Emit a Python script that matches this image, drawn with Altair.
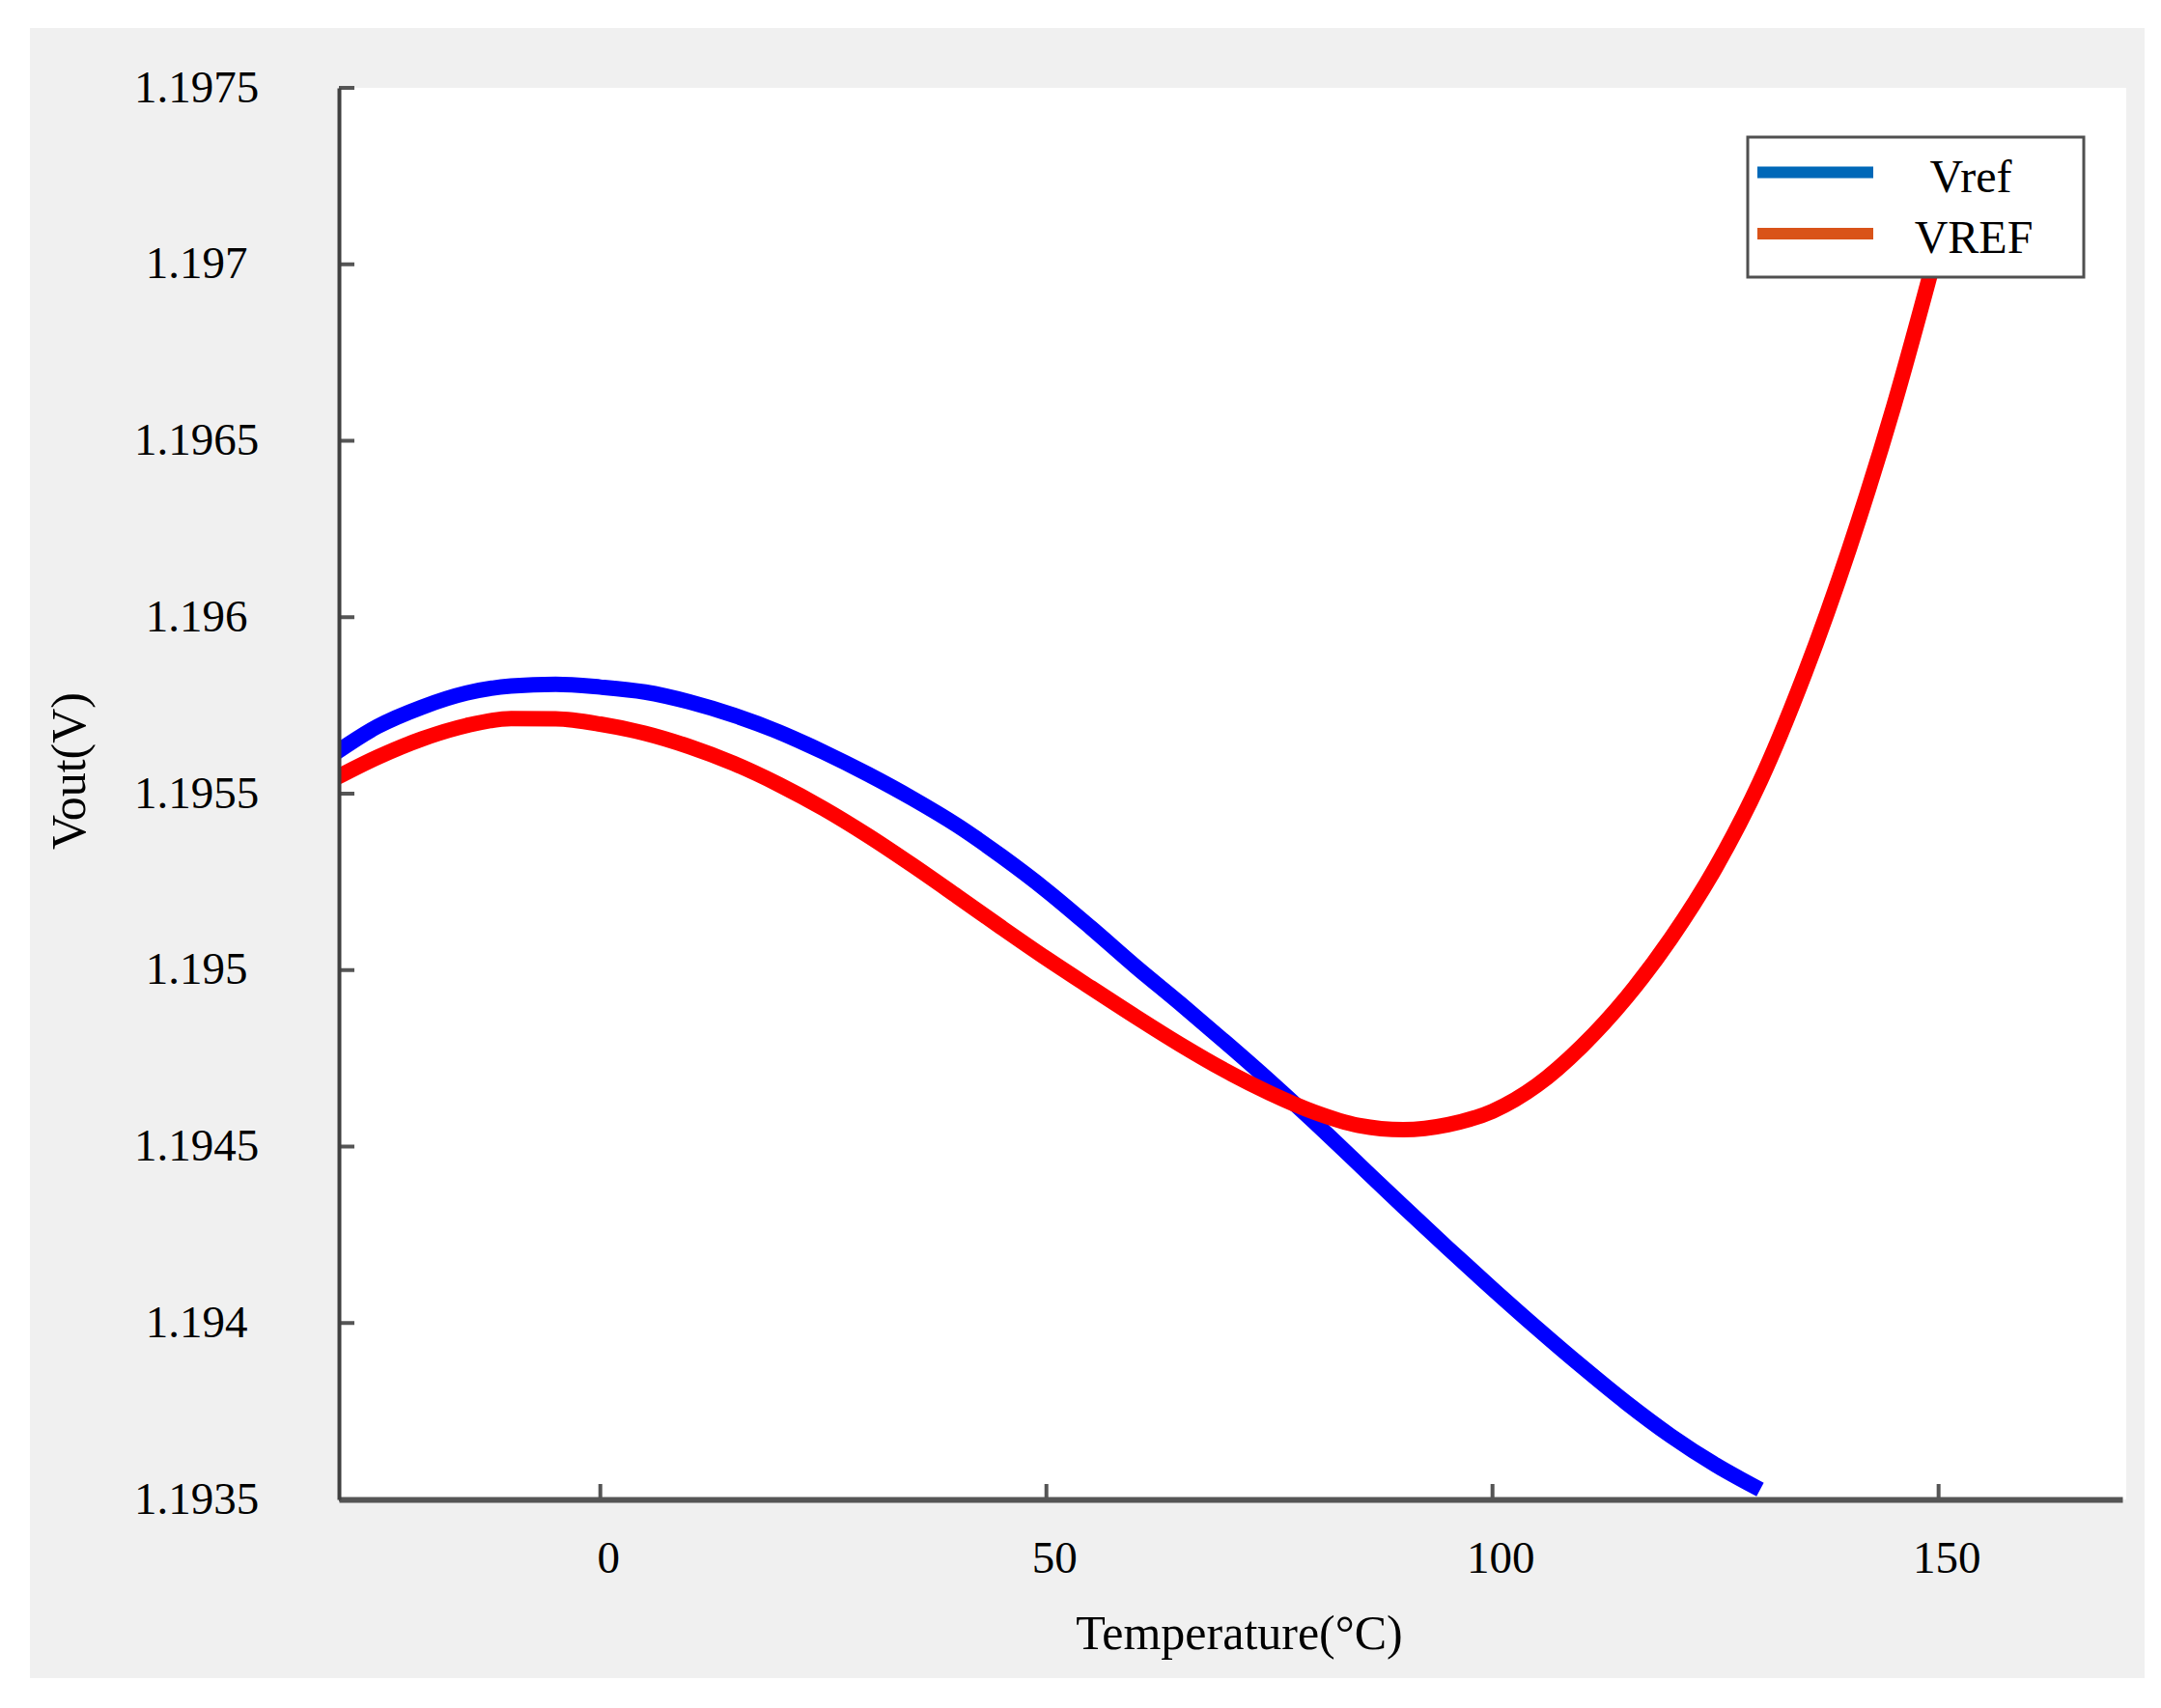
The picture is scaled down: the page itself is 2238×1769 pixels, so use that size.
import altair as alt
import pandas as pd

# ---- data ----
temps_vref = [-30, -25, -20, -15, -10, -5, 0, 5, 10, 15, 20, 25, 30, 35, 40, 45,
              50, 55, 60, 65, 70, 75, 80, 85, 90, 95, 100, 105, 110, 115, 120, 125, 130]
vref = [1.19561, 1.19569, 1.195745, 1.195785, 1.195805, 1.19581, 1.195802, 1.195788,
        1.19576, 1.195722, 1.195675, 1.195618, 1.195555, 1.195486, 1.19541, 1.195322,
        1.195226, 1.19512, 1.19501, 1.194905, 1.194797, 1.194686, 1.19457, 1.19445,
        1.19433, 1.194212, 1.194097, 1.193985, 1.193877, 1.193774, 1.19368, 1.193598, 1.193528]

temps_VREF = [-30, -25, -20, -15, -10, -5, 0, 5, 10, 15, 20, 25, 30, 35, 40, 45,
              50, 55, 60, 65, 70, 75, 80, 85, 90, 95, 100, 105, 110, 115, 120, 125,
              130, 135, 140, 145, 150]
VREF = [1.19554, 1.195603, 1.195655, 1.195693, 1.195713, 1.195712, 1.195697, 1.195671,
        1.195633, 1.195585, 1.195526, 1.195458, 1.195381, 1.195297, 1.195209, 1.19512,
        1.195033, 1.19495, 1.194868, 1.194789, 1.194716, 1.194652, 1.194598, 1.19456,
        1.194548, 1.194562, 1.1946, 1.194674, 1.194784, 1.194922, 1.19509, 1.19529,
        1.195535, 1.19584, 1.196195, 1.1966, 1.19706]

series_names = ["Vref", "VREF"]
line_colors = ["#0000ff", "#ff0000"]
legend_colors = ["#0068b8", "#d95319"]

x_ticks = [0, 50, 100, 150]
y_ticks = [1.1935, 1.194, 1.1945, 1.195, 1.1955, 1.196, 1.1965, 1.197, 1.1975]

x_domain = [-29.3, 170.6]
y_domain = [1.1935, 1.1975]

W, H = 1847, 1462
FONT = "Liberation Serif"

df = pd.concat([
    pd.DataFrame({"series": "Vref", "T": temps_vref, "V": vref, "order": range(len(vref))}),
    pd.DataFrame({"series": "VREF", "T": temps_VREF, "V": VREF, "order": range(len(VREF))}),
])

xscale = alt.Scale(domain=x_domain, nice=False, zero=False)
yscale = alt.Scale(domain=y_domain, nice=False, zero=False)

x_axis = alt.Axis(values=x_ticks, format="d", ticks=False, tickSize=0, grid=False,
                  domainColor="#555555", domainWidth=6, labelFont=FONT, labelFontSize=47,
                  labelColor="black", labelPadding=61, labelBaseline="middle", labelOffset=8,
                  labelOverlap=False, title="Temperature(°C)", titleFont=FONT,
                  titleFontSize=50, titleFontWeight="normal", titleColor="black",
                  titleX=932, titleY=154, titleAlign="center", titleBaseline="alphabetic",
                  zindex=1)
y_axis = alt.Axis(values=y_ticks, format=".4~f", ticks=False, tickSize=0, grid=False,
                  domainColor="#404040", domainWidth=4, labelFont=FONT, labelFontSize=47,
                  labelColor="black", labelPadding=148, labelAlign="center",
                  labelBaseline="middle", labelOverlap=False, title="Vout(V)",
                  titleFont=FONT, titleFontSize=50, titleFontWeight="normal",
                  titleColor="black", titleX=-279, titleY=707, titleAngle=270,
                  titleAlign="center", titleBaseline="middle", zindex=1)

one = pd.DataFrame({"k": [0]})

gray_bg = alt.Chart(one).mark_rect(color="#f0f0f0").encode(
    x=alt.value(-320), x2=alt.value(1870), y=alt.value(-62), y2=alt.value(1647))
white_bg = alt.Chart(one).mark_rect(color="white").encode(
    x=alt.value(0), x2=alt.value(W + 4), y=alt.value(0), y2=alt.value(H))

lines = alt.Chart(df).mark_line(strokeWidth=16, clip=True, interpolate="monotone").encode(
    x=alt.X("T:Q", scale=xscale, axis=x_axis),
    y=alt.Y("V:Q", scale=yscale, axis=y_axis),
    color=alt.Color("series:N", scale=alt.Scale(domain=series_names, range=line_colors),
                    legend=None),
    order="order:Q",
)

ytick_df = pd.DataFrame({"V": y_ticks})
xtick_df = pd.DataFrame({"T": x_ticks})
yticks = alt.Chart(ytick_df).mark_rule(color="#555555", strokeWidth=4).encode(
    y=alt.Y("V:Q", scale=yscale), x=alt.value(0), x2=alt.value(16))
xticks = alt.Chart(xtick_df).mark_rule(color="#555555", strokeWidth=4).encode(
    x=alt.X("T:Q", scale=xscale), y=alt.value(H - 16), y2=alt.value(H))

legend_box = alt.Chart(one).mark_rect(fill="white", stroke="#505050", strokeWidth=3).encode(
    x=alt.value(1459), x2=alt.value(1807), y=alt.value(51), y2=alt.value(196))

legend_layers = []
for i, (name, col) in enumerate(zip(series_names, legend_colors)):
    ly = 87.6 + i * 63.4
    legend_layers.append(
        alt.Chart(one).mark_rule(color=col, strokeWidth=12).encode(
            x=alt.value(1469), x2=alt.value(1589), y=alt.value(ly)))
    legend_layers.append(
        alt.Chart(one).mark_text(text=name, font=FONT, fontSize=48, color="black",
                                 align="center", baseline="alphabetic").encode(
            x=alt.value(1690 + i * 3), y=alt.value(ly + 20)))

chart = alt.layer(gray_bg, white_bg, lines, yticks, xticks, legend_box, *legend_layers).properties(
    width=W, height=H,
    autosize=alt.AutoSizeParams(type="none"),
    padding={"left": 343, "top": 83, "right": 30, "bottom": 205},
    background="white",
).configure_view(stroke=None, fill=None)

chart.save("out.html", embed_options={"renderer": "svg", "actions": False})
